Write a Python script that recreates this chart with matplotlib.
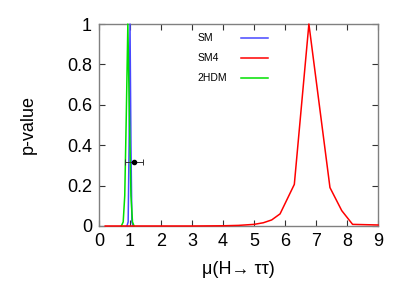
import matplotlib
matplotlib.use("Agg")
import matplotlib.pyplot as plt
from matplotlib.lines import Line2D

plt.rcParams["font.family"] = ["Liberation Sans", "DejaVu Sans"]

# p-value curves
sm_mu = [0.90, 0.94, 0.97, 1.00, 1.03, 1.06, 1.10]
sm_p = [0.0, 0.02, 0.4, 1.0, 0.4, 0.02, 0.0]

sm4_mu = [0.2, 1.0, 2.0, 3.0, 4.0, 4.5, 5.0, 5.3, 5.57, 5.84, 6.3, 6.77, 7.45, 7.83, 8.18, 9.0]
sm4_p = [0.0, 0.0, 0.0, 0.0, 0.001, 0.003, 0.008, 0.016, 0.03, 0.06, 0.206, 1.0, 0.19, 0.076, 0.008, 0.005]

hdm_mu = [0.72, 0.78, 0.83, 0.88, 0.93, 0.98, 1.03, 1.08, 1.13]
hdm_p = [0.0, 0.02, 0.15, 0.55, 1.0, 0.55, 0.15, 0.02, 0.0]

# measured point
meas_mu = [1.12]
meas_p = [0.315]
meas_err = [0.29]

labels = ["SM", "SM4", "2HDM"]
colors = ["#4848ff", "#ff0000", "#00e000"]

fig = plt.figure(figsize=(4.15, 2.91), dpi=100)
ax = fig.add_axes([0.2386, 0.2234, 0.6723, 0.6941])

ax.plot(sm_mu, sm_p, color=colors[0], lw=1.1, zorder=3, clip_on=False)
ax.plot(hdm_mu, hdm_p, color=colors[2], lw=1.1, zorder=3, clip_on=False)
ax.plot(sm4_mu, sm4_p, color=colors[1], lw=1.1, zorder=3.5, clip_on=False)
ax.errorbar(meas_mu, meas_p, xerr=meas_err, fmt="o", color="black",
            ms=3, elinewidth=0.7, capsize=2, capthick=0.7, ecolor="#333333",
            zorder=4)

# gnuplot-style key: label on the left, line sample on the right
for i, (lab, col) in enumerate(zip(labels, colors)):
    y = 0.93 - i * 0.098
    ax.text(0.352, y, lab, transform=ax.transAxes, fontsize=7.5,
            ha="left", va="center")
    ax.add_line(Line2D([0.508, 0.605], [y, y], transform=ax.transAxes,
                       color=col, lw=1.1))

ax.set_xlim(0, 9)
ax.set_ylim(0, 1)
ax.set_xticks(range(10))
ax.set_yticks([0, 0.2, 0.4, 0.6, 0.8, 1.0])
ax.set_yticklabels(["0", "0.2", "0.4", "0.6", "0.8", "1"])
ax.tick_params(direction="in", length=4, width=0.8, labelsize=13,
               top=True, right=True, color="#333333", pad=5)
for s in ax.spines.values():
    s.set_color("#808080")
    s.set_linewidth(1.0)

ax.set_xlabel("μ(H→ ττ)", fontsize=13, labelpad=8)
ax.set_ylabel("p-value", fontsize=13, labelpad=22)

fig.savefig("out.png", dpi=100)
